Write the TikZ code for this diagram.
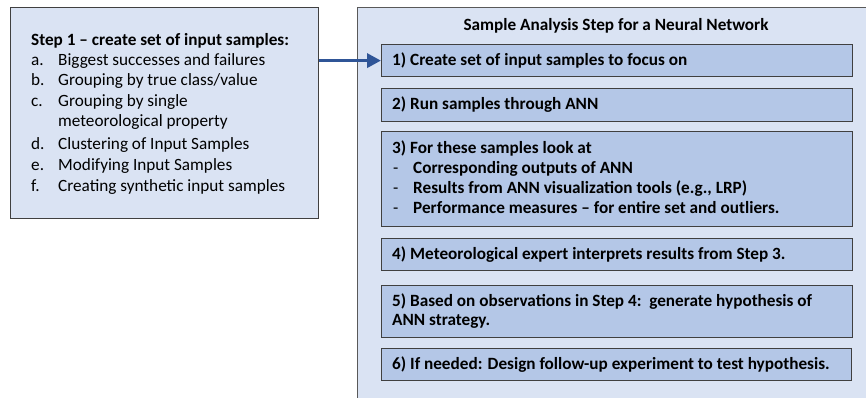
\documentclass[tikz,border=0pt]{standalone}
\usepackage{fontspec}
\setmainfont{Carlito}
\usetikzlibrary{arrows.meta}
\definecolor{lightfill}{HTML}{DAE3F3}
\definecolor{boxfill}{HTML}{B4C7E7}
\definecolor{edgedark}{HTML}{404040}
\definecolor{edgegray}{HTML}{595959}
\definecolor{arrowblue}{HTML}{2F5597}
\begin{document}
\begin{tikzpicture}[x=1pt,y=-1pt,
  txt/.style={anchor=base west, inner sep=0pt, font=\fontsize{17.2}{20.7}\selectfont, text=black},
  txtb/.style={anchor=base west, inner sep=0pt, font=\fontsize{17.2}{20.7}\selectfont\bfseries, text=black},
  outerbox/.style={draw=edgedark, fill=lightfill, line width=1.2pt, inner sep=0pt, anchor=north west},
  bigbox/.style={draw=edgegray, fill=lightfill, line width=1pt, inner sep=0pt, anchor=north west},
  stepbox/.style={draw=edgedark, fill=boxfill, line width=1.2pt, inner sep=0pt, anchor=north west, minimum width=471pt},
  flow/.style={draw=arrowblue, line width=3.5pt, -{Triangle[length=14pt,width=14pt]}}
]
\useasboundingbox (0,0) rectangle (866,397);

% left box
\node[outerbox, minimum width=308pt, minimum height=211pt] (left) at (10,7) {};
\node[txtb] (h1) at (31,45.5) {Step 1 – create set of input samples:};
\node[txt] (la) at (31,65) {a.};
\node[txt] (ta) at (58,65) {Biggest successes and failures};
\node[txt] (lb) at (31,85) {b.};
\node[txt] (tb) at (58,85) {Grouping by true class/value};
\node[txt] (lc) at (31,106.7) {c.};
\node[txt] (tc) at (58,106.7) {Grouping by single};
\node[txt] (tc2) at (58,126.7) {meteorological property};
\node[txt] (ld) at (31,149) {d.};
\node[txt] (td) at (58,149) {Clustering of Input Samples};
\node[txt] (le) at (31,170.7) {e.};
\node[txt] (te) at (58,170.7) {Modifying Input Samples};
\node[txt] (lf) at (31,191.7) {f.};
\node[txt] (tf) at (58,191.7) {Creating synthetic input samples};

% right big box
\node[bigbox, minimum width=519pt, minimum height=400pt] (big) at (357,7) {};
\node[txtb, anchor=base] (title) at (616,30) {Sample Analysis Step for a Neural Network};

\node[stepbox, minimum height=32pt] (b1) at (381,44) {};
\node[stepbox, minimum height=33pt] (b2) at (381,88) {};
\node[stepbox, minimum height=95pt] (b3) at (381,131) {};
\node[stepbox, minimum height=32pt] (b4) at (381,238) {};
\node[stepbox, minimum height=52pt] (b5) at (381,285) {};
\node[stepbox, minimum height=32pt, minimum width=470pt] (b6) at (381,348) {};

\node[txtb] (s1) at (392,65) {1) Create set of input samples to focus on};
\node[txtb] (s2) at (392,109.5) {2) Run samples through ANN};
\node[txtb] (s3) at (392,153.5) {3) For these samples look at};
\node[txt] (d1) at (393,173.5) {-};
\node[txtb] (s3a) at (413,173.5) {Corresponding outputs of ANN};
\node[txt] (d2) at (393,193.5) {-};
\node[txtb] (s3b) at (413,193.5) {Results from ANN visualization tools (e.g., LRP)};
\node[txt] (d3) at (393,213.5) {-};
\node[txtb] (s3c) at (413,213.5) {Performance measures – for entire set and outliers.};
\node[txtb] (s4) at (392,259) {4) Meteorological expert interprets results from Step 3.};
\node[txtb] (s5) at (392,306) {5) Based on observations in Step 4:\ \ generate hypothesis of};
\node[txtb] (s5b) at (392,325) {ANN strategy.};
\node[txtb] (s6) at (392,369) {6) If needed: Design follow-up experiment to test hypothesis.};

% connector
\draw[flow] (left.east |- b1.west) -- (b1.west);
\end{tikzpicture}
\end{document}
